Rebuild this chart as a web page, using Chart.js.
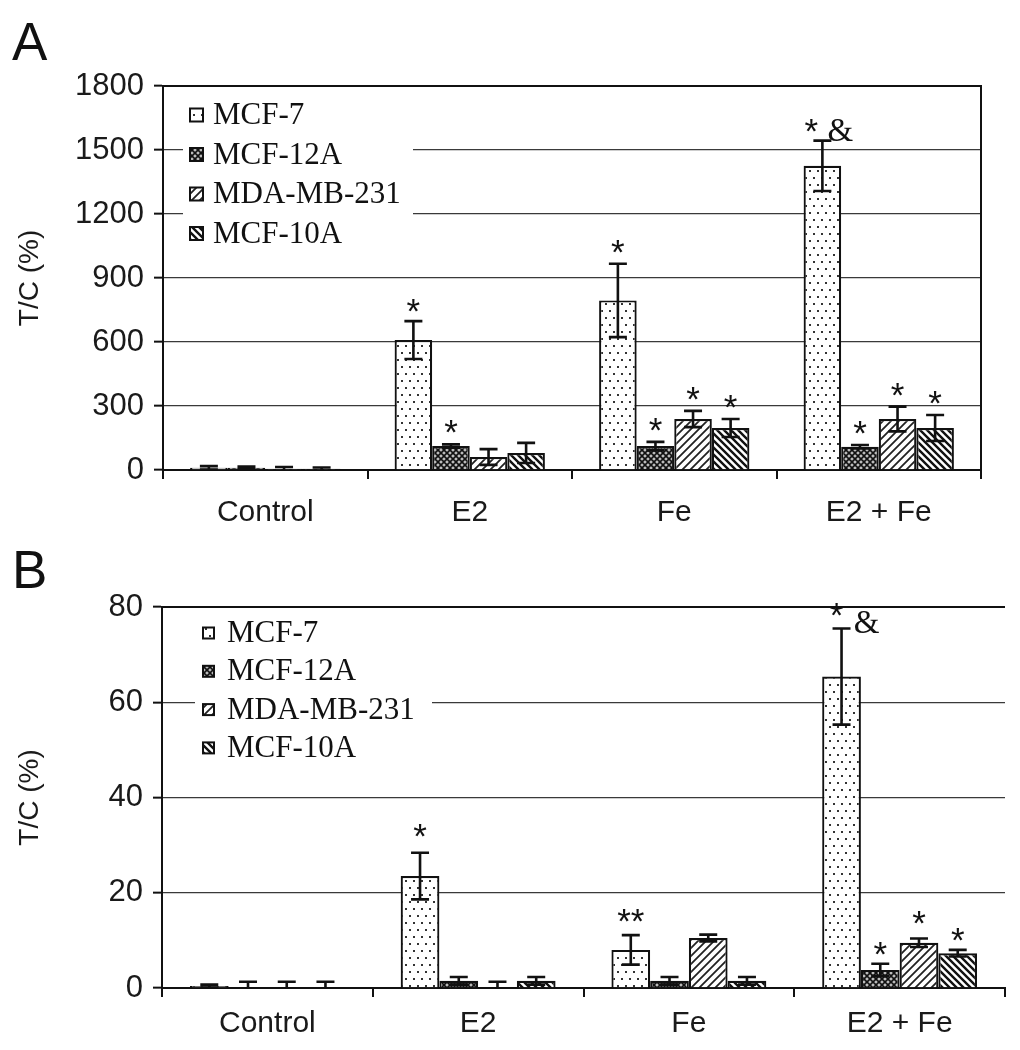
<!DOCTYPE html>
<html>
<head>
<meta charset="utf-8">
<script src="https://cdn.jsdelivr.net/npm/chart.js@4/dist/chart.umd.min.js"></script>
<style>
    body { margin: 0; background: #fff; }
    #wrap { position: relative; width: 1020px; height: 1050px; overflow: hidden; }
    .painel { position: absolute; left: 0; width: 1020px; }
    .letra { position: absolute; font-family: 'Liberation Sans', Arial, sans-serif; font-size: 53px; line-height: 1; color: #111; }
</style>
</head>
<body>
<div id="wrap">
    <div class="painel" style="top:0;height:535px"><canvas id="graficoA"></canvas></div>
    <div class="painel" style="top:535px;height:515px"><canvas id="graficoB"></canvas></div>
    <div class="letra" style="left:12px;top:15px">A</div>
    <div class="letra" style="left:12px;top:543px">B</div>
</div>
<script>
const categorias = ['Control', 'E2', 'Fe', 'E2 + Fe'];
const linhagens = ['MCF-7', 'MCF-12A', 'MDA-MB-231', 'MCF-10A'];

// painel A (proliferacao, T/C %)
const mcf7A = [10, 609, 795, 1426];
const mcf7A_erro = [8, 89, 172, 118];
const mcf12aA = [10, 112, 112, 109];
const mcf12aA_erro = [6, 8, 20, 8];
const mdaA = [6, 61, 239, 239];
const mdaA_erro = [8, 37, 38, 58];
const mcf10aA = [6, 80, 197, 197];
const mcf10aA_erro = [6, 47, 42, 61];
const ticksA = [0, 300, 600, 900, 1200, 1500, 1800];

// painel B
const mcf7B = [0.4, 23.5, 8.0, 65.4];
const mcf7B_erro = [0.3, 4.9, 3.1, 10.1];
const mcf12aB = [0.2, 1.5, 1.5, 3.8];
const mcf12aB_erro = [1.1, 0.8, 0.8, 1.3];
const mdaB = [0.2, 0.2, 10.5, 9.5];
const mdaB_erro = [1.1, 1.1, 0.7, 0.9];
const mcf10aB = [0.2, 1.5, 1.5, 7.3];
const mcf10aB_erro = [1.1, 0.8, 0.8, 0.7];
const ticksB = [0, 20, 40, 60, 80];

// marcas de significancia: [serie, categoria, texto]
const marcasA = [
    [0, 1, '*'], [1, 1, '*'],
    [0, 2, '*'], [1, 2, '*'], [2, 2, '*'], [3, 2, '*'],
    [0, 3, '*'], [0, 3, '&'], [1, 3, '*'], [2, 3, '*'], [3, 3, '*']
];
const marcasB = [
    [0, 1, '*'], [0, 2, '**'],
    [0, 3, '*'], [0, 3, '&'], [1, 3, '*'], [2, 3, '*'], [3, 3, '*']
];

const SANS = "'Liberation Sans', Arial, sans-serif";
const SERIF = "'Liberation Serif', 'Times New Roman', serif";

function criarPadrao(tipo) {
    const c = document.createElement('canvas');
    const ctx = c.getContext('2d');
    if (tipo === 'pontos') {
        c.width = 8; c.height = 14;
        ctx.fillStyle = '#fff'; ctx.fillRect(0, 0, 8, 14);
        ctx.fillStyle = '#333';
        ctx.fillRect(1, 2, 2, 2);
        ctx.fillRect(5, 9, 2, 2);
    } else if (tipo === 'xadrez') {
        c.width = 6; c.height = 6;
        ctx.fillStyle = '#bdbdbd'; ctx.fillRect(0, 0, 6, 6);
        ctx.strokeStyle = '#111'; ctx.lineWidth = 1.6;
        ctx.beginPath();
        ctx.moveTo(0, 0); ctx.lineTo(6, 6);
        ctx.moveTo(6, 0); ctx.lineTo(0, 6);
        ctx.stroke();
    } else if (tipo === 'barra') {
        c.width = 8; c.height = 8;
        ctx.fillStyle = '#fff'; ctx.fillRect(0, 0, 8, 8);
        ctx.strokeStyle = '#222'; ctx.lineWidth = 1.8;
        ctx.beginPath();
        ctx.moveTo(0, 8); ctx.lineTo(8, 0);
        ctx.moveTo(-1, 1); ctx.lineTo(1, -1);
        ctx.moveTo(7, 9); ctx.lineTo(9, 7);
        ctx.stroke();
    } else {
        c.width = 7; c.height = 7;
        ctx.fillStyle = '#fff'; ctx.fillRect(0, 0, 7, 7);
        ctx.strokeStyle = '#111'; ctx.lineWidth = 2.4;
        ctx.beginPath();
        ctx.moveTo(0, 0); ctx.lineTo(7, 7);
        ctx.moveTo(-1, 6); ctx.lineTo(1, 8);
        ctx.moveTo(6, -1); ctx.lineTo(8, 1);
        ctx.stroke();
    }
    return ctx.createPattern(c, 'repeat');
}

const padroes = [criarPadrao('pontos'), criarPadrao('xadrez'), criarPadrao('barra'), criarPadrao('contra')];

const pluginErros = {
    id: 'erros',
    afterDatasetsDraw(chart) {
        const ctx = chart.ctx;
        const y = chart.scales.y;
        ctx.save();
        ctx.strokeStyle = '#111';
        ctx.lineWidth = 2.6;
        chart.data.datasets.forEach((ds, i) => {
            chart.getDatasetMeta(i).data.forEach((bar, j) => {
                const v = ds.data[j], e = ds.erros[j];
                const yt = y.getPixelForValue(v + e);
                const yb = y.getPixelForValue(Math.max(v - e, 0));
                ctx.beginPath();
                ctx.moveTo(bar.x, yt); ctx.lineTo(bar.x, yb);
                ctx.moveTo(bar.x - 9, yt); ctx.lineTo(bar.x + 9, yt);
                if (v - e > 0) { ctx.moveTo(bar.x - 9, yb); ctx.lineTo(bar.x + 9, yb); }
                ctx.stroke();
            });
        });
        ctx.restore();
    }
};

const pluginMarcas = {
    id: 'marcas',
    afterDatasetsDraw(chart, args, opts) {
        const ctx = chart.ctx;
        const y = chart.scales.y;
        ctx.save();
        ctx.fillStyle = '#111';
        ctx.textAlign = 'center';
        ctx.textBaseline = 'alphabetic';
        opts.lista.forEach((m, k) => {
            const [i, j, texto] = m;
            const ds = chart.data.datasets[i];
            const bar = chart.getDatasetMeta(i).data[j];
            const yt = y.getPixelForValue(ds.data[j] + ds.erros[j]);
            const aj = opts.ajustes[k] || {};
            const dx = aj.dx || 0;
            const dy = aj.dy !== undefined ? aj.dy : -20;
            if (texto === '&') {
                ctx.font = `33px ${SERIF}`;
                ctx.fillText(texto, bar.x + dx, yt + dy + 11);
            } else {
                ctx.font = `35px ${SANS}`;
                ctx.fillText(texto, bar.x + dx, yt + dy + 20);
            }
        });
        ctx.restore();
    }
};

const pluginLegenda = {
    id: 'legendaBox',
    beforeDatasetsDraw(chart, args, opts) {
        const ctx = chart.ctx;
        ctx.save();
        ctx.fillStyle = '#fff';
        ctx.fillRect(opts.x, opts.y, opts.w, opts.h);
        ctx.font = `31px ${SERIF}`;
        ctx.textBaseline = 'middle';
        ctx.textAlign = 'left';
        chart.data.datasets.forEach((ds, i) => {
            const cy = opts.y0 + i * opts.passo;
            ctx.fillStyle = ds.backgroundColor;
            ctx.fillRect(opts.xi, cy - opts.lado / 2, opts.lado, opts.lado);
            ctx.strokeStyle = '#111';
            ctx.lineWidth = 2;
            ctx.strokeRect(opts.xi, cy - opts.lado / 2, opts.lado, opts.lado);
            ctx.fillStyle = '#111';
            ctx.fillText(ds.label, opts.xt, cy + 1);
        });
        ctx.restore();
    }
};

const pluginMoldura = {
    id: 'moldura',
    afterDraw(chart, args, opts) {
        const a = chart.chartArea;
        const ctx = chart.ctx;
        ctx.save();
        ctx.strokeStyle = '#111';
        ctx.lineWidth = 2;
        ctx.beginPath();
        ctx.moveTo(a.left, a.top); ctx.lineTo(a.right, a.top);
        if (opts.direita) { ctx.lineTo(a.right, a.bottom); }
        ctx.stroke();
        ctx.restore();
    }
};

function montarDatasets(valores, erros) {
    return linhagens.map((nome, i) => ({
        label: nome,
        data: valores[i],
        erros: erros[i],
        backgroundColor: padroes[i],
        borderColor: '#111',
        borderWidth: 2.2,
        borderSkipped: 'bottom',
        barPercentage: 1,
        categoryPercentage: 0.735
    }));
}

function montarGrafico(id, cfg) {
    const fonteX = { family: SANS, size: 30 };
    const fonteY = { family: SANS, size: 31 };
    const fonteTitulo = { family: SANS, size: 28 };
    return new Chart(document.getElementById(id), {
        type: 'bar',
        data: { labels: categorias, datasets: montarDatasets(cfg.valores, cfg.erros) },
        options: {
            responsive: true,
            maintainAspectRatio: false,
            animation: false,
            layout: { padding: cfg.padding },
            plugins: {
                legend: { display: false },
                tooltip: { enabled: false },
                marcas: { lista: cfg.marcas, ajustes: cfg.ajustes },
                legendaBox: cfg.legenda,
                moldura: { direita: cfg.direita }
            },
            scales: {
                x: {
                    grid: { drawOnChartArea: false, drawTicks: true, tickLength: 9, color: '#111', lineWidth: 2 },
                    border: { color: '#111', width: 2 },
                    ticks: { font: fonteX, color: '#1a1a1a', padding: cfg.padX },
                    afterFit(s) { s.height = cfg.alturaX; s.paddingLeft = 0; s.paddingRight = 0; }
                },
                y: {
                    min: 0,
                    max: cfg.ticks[cfg.ticks.length - 1],
                    afterBuildTicks(s) { s.ticks = cfg.ticks.map(v => ({ value: v })); },
                    grid: { color: '#3a3a3a', lineWidth: 1.3, tickLength: 9, tickColor: '#111', tickWidth: 2 },
                    border: { color: '#111', width: 2 },
                    ticks: { font: fonteY, color: '#1a1a1a', padding: 10, callback: v => String(v) },
                    title: { display: true, text: 'T/C (%)', font: fonteTitulo, color: '#1a1a1a', padding: { top: 13, bottom: 0 } },
                    afterFit(s) { s.width = cfg.larguraY; s.paddingTop = 0; s.paddingBottom = 0; }
                }
            }
        },
        plugins: [pluginLegenda, pluginErros, pluginMarcas, pluginMoldura]
    });
}

montarGrafico('graficoA', {
    valores: [mcf7A, mcf12aA, mdaA, mcf10aA],
    erros: [mcf7A_erro, mcf12aA_erro, mdaA_erro, mcf10aA_erro],
    ticks: ticksA,
    padding: { top: 86, right: 39, left: 0, bottom: 0 },
    larguraY: 163,
    alturaX: 65,
    padX: 16,
    direita: true,
    marcas: marcasA,
    ajustes: { 0: { dy: -18 }, 6: { dx: -11, dy: -18 }, 7: { dx: 18, dy: -11 } },
    legenda: { x: 183, y: 94, w: 230, h: 162, y0: 115, passo: 39.5, xi: 190, lado: 13, xt: 213 }
});

montarGrafico('graficoB', {
    valores: [mcf7B, mcf12aB, mdaB, mcf10aB],
    erros: [mcf7B_erro, mcf12aB_erro, mdaB_erro, mcf10aB_erro],
    ticks: ticksB,
    padding: { top: 72, right: 15, left: 0, bottom: 0 },
    larguraY: 162,
    alturaX: 62,
    padX: 9,
    direita: false,
    marcas: marcasB,
    ajustes: { 0: { dy: -25 }, 1: { dy: -22 }, 2: { dx: -5, dy: -21 }, 3: { dx: 25, dy: -6 }, 4: { dy: -18 }, 5: { dy: -23 }, 6: { dy: -18 } },
    legenda: { x: 195, y: 77, w: 237, h: 158, y0: 98, passo: 38.3, xi: 203, lado: 11, xt: 227 }
});
</script>
</body>
</html>
